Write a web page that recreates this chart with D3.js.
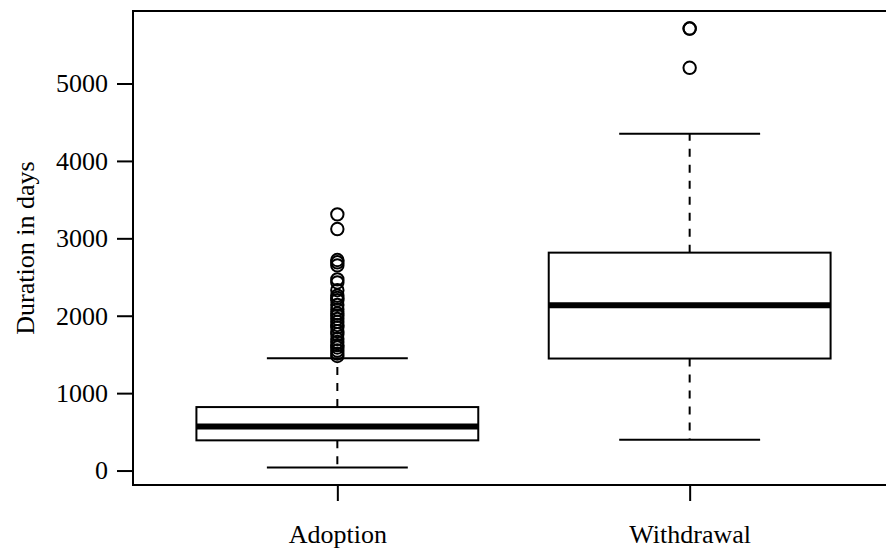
<!DOCTYPE html>
<html>
<head>
<meta charset="utf-8">
<script src="https://cdn.jsdelivr.net/npm/d3@7"></script>
<style>
  html, body { margin: 0; padding: 0; background: #fff; }
  svg { display: block; }
</style>
</head>
<body>
<svg id="chart" width="886" height="552"></svg>
<script>
// categories and box statistics
const categories = ['Adoption', 'Withdrawal'];
const lowerWhisker = [40, 398];
const q1 = [390, 1447];
const median = [570, 2137];
const q3 = [820, 2815];
const upperWhisker = [1450, 4352];
const adoptionOutliers = [3310, 3120, 2720, 2690, 2650, 2470, 2430, 2330, 2260, 2230,
  2200, 2140, 2080, 2030, 2000, 1960, 1920, 1880, 1850, 1800, 1760, 1700, 1660,
  1620, 1590, 1550, 1510, 1480];
const withdrawalOutliers = [5203, 5710, 5710];
const yTicks = [0, 1000, 2000, 3000, 4000, 5000];

const outliers = [adoptionOutliers, withdrawalOutliers];
const svg = d3.select('#chart');
const font = '"Liberation Serif", "Times New Roman", serif';

// plot region (right edge runs off the picture like the original)
const plotLeft = 133, plotRight = 894, plotTop = 11, plotBottom = 485;

// y extent like R: data range padded by 4%
const allVals = lowerWhisker.concat(upperWhisker, adoptionOutliers, withdrawalOutliers);
const yMin = d3.min(allVals), yMax = d3.max(allVals);
const pad = (yMax - yMin) * 0.04;
const y = d3.scaleLinear().domain([yMin - pad, yMax + pad]).range([plotBottom, plotTop]);
const x = d3.scaleLinear().domain([0.42, 2.58]).range([plotLeft, plotRight]);

const boxHalf = 0.4, capHalf = 0.2;

const groups = svg.append('g')
  .selectAll('g.box')
  .data(categories)
  .enter()
  .append('g')
  .attr('class', 'box');

// dashed whiskers
groups.append('line')
  .attr('x1', (d, i) => x(i + 1)).attr('x2', (d, i) => x(i + 1))
  .attr('y1', (d, i) => y(q3[i])).attr('y2', (d, i) => y(upperWhisker[i]))
  .attr('stroke', '#000').attr('stroke-width', 2).attr('stroke-dasharray', '8,8');
groups.append('line')
  .attr('x1', (d, i) => x(i + 1)).attr('x2', (d, i) => x(i + 1))
  .attr('y1', (d, i) => y(q1[i])).attr('y2', (d, i) => y(lowerWhisker[i]))
  .attr('stroke', '#000').attr('stroke-width', 2).attr('stroke-dasharray', '8,8');

// whisker caps
[upperWhisker, lowerWhisker].forEach(arr => {
  groups.append('line')
    .attr('x1', (d, i) => x(i + 1 - capHalf)).attr('x2', (d, i) => x(i + 1 + capHalf))
    .attr('y1', (d, i) => y(arr[i])).attr('y2', (d, i) => y(arr[i]))
    .attr('stroke', '#000').attr('stroke-width', 2);
});

// boxes
groups.append('rect')
  .attr('x', (d, i) => x(i + 1 - boxHalf))
  .attr('width', (d, i) => x(i + 1 + boxHalf) - x(i + 1 - boxHalf))
  .attr('y', (d, i) => y(q3[i]))
  .attr('height', (d, i) => y(q1[i]) - y(q3[i]))
  .attr('fill', '#fff').attr('stroke', '#000').attr('stroke-width', 2);

// medians
groups.append('line')
  .attr('x1', (d, i) => x(i + 1 - boxHalf)).attr('x2', (d, i) => x(i + 1 + boxHalf))
  .attr('y1', (d, i) => y(median[i])).attr('y2', (d, i) => y(median[i]))
  .attr('stroke', '#000').attr('stroke-width', 6);

// outliers
groups.each(function(d, i) {
  d3.select(this).selectAll('circle')
    .data(outliers[i])
    .enter()
    .append('circle')
    .attr('cx', x(i + 1))
    .attr('cy', v => y(v))
    .attr('r', 6.2)
    .attr('fill', 'none')
    .attr('stroke', '#000')
    .attr('stroke-width', 2);
});

// plot frame
svg.append('rect')
  .attr('x', plotLeft).attr('y', plotTop)
  .attr('width', plotRight - plotLeft).attr('height', plotBottom - plotTop)
  .attr('fill', 'none').attr('stroke', '#000').attr('stroke-width', 2);

// y axis
const yAxis = d3.axisLeft(y).tickValues(yTicks).tickFormat(d3.format('d'))
  .tickSize(16).tickPadding(9);
svg.append('g')
  .attr('transform', `translate(${plotLeft},0)`)
  .call(yAxis)
  .call(g => {
    g.select('.domain').remove();
    g.selectAll('.tick line').attr('stroke', '#000').attr('stroke-width', 2);
    g.selectAll('.tick text')
      .attr('fill', '#000')
      .style('font-family', font)
      .style('font-size', '26px');
  });

// x axis
const xAxis = d3.axisBottom(x).tickValues([1, 2])
  .tickFormat((d) => categories[d - 1]).tickSize(16).tickPadding(24);
svg.append('g')
  .attr('transform', `translate(0,${plotBottom})`)
  .call(xAxis)
  .call(g => {
    g.select('.domain').remove();
    g.selectAll('.tick line').attr('stroke', '#000').attr('stroke-width', 2);
    g.selectAll('.tick text')
      .attr('fill', '#000')
      .style('font-family', font)
      .style('font-size', '26px');
  });

// y label
svg.append('text')
  .attr('transform', `translate(28,${(plotTop + plotBottom) / 2}) rotate(-90)`)
  .attr('text-anchor', 'middle')
  .attr('dominant-baseline', 'middle')
  .style('font-family', font)
  .style('font-size', '26px')
  .text('Duration in days');
</script>
</body>
</html>
